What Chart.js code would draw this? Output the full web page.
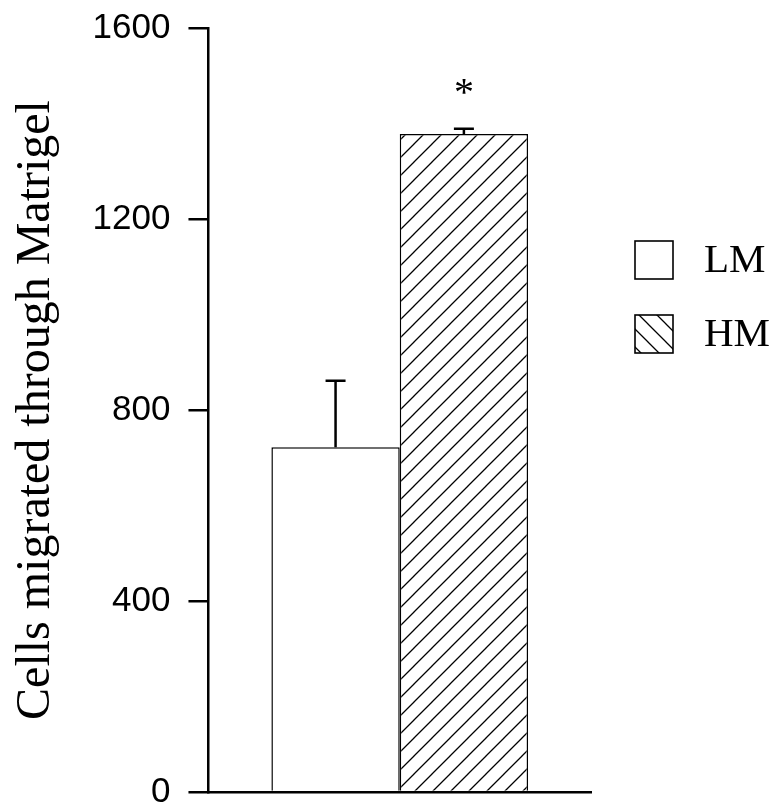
<!DOCTYPE html>
<html>
<head>
<meta charset="utf-8">
<script src="https://cdn.jsdelivr.net/npm/chart.js@4"></script>
<style>
  html, body { margin: 0; padding: 0; background: #fff; }
  #wrap { width: 775px; height: 807px; position: relative; }
</style>
</head>
<body>
<div id="wrap"><canvas id="c" width="775" height="807"></canvas></div>
<script>
// ---- data ----
const categories = [''];
const seriesLabels = ['LM', 'HM'];
const lmValues = [722];
const hmValues = [1378];
const lmErrors = [139];
const hmErrors = [11];
const yTicks = [0, 400, 800, 1200, 1600];
const yTickLabels = ['0', '400', '800', '1200', '1600'];
const yTitle = 'Cells migrated through Matrigel';
const significance = ['', '*'];

// ---- hatch patterns ----
function makeHatch(dir) {
  const s = 18;
  const cv = document.createElement('canvas');
  cv.width = s; cv.height = s;
  const g = cv.getContext('2d');
  g.fillStyle = '#fff';
  g.fillRect(0, 0, s, s);
  g.strokeStyle = '#000';
  g.lineWidth = 1.3;
  g.beginPath();
  if (dir === '/') {
    g.moveTo(-2, s + 2); g.lineTo(s + 2, -2);
    g.moveTo(-2, 2); g.lineTo(2, -2);
    g.moveTo(s - 2, s + 2); g.lineTo(s + 2, s - 2);
  } else {
    g.moveTo(-2, -2); g.lineTo(s + 2, s + 2);
    g.moveTo(s - 2, -2); g.lineTo(s + 2, 2);
    g.moveTo(-2, s - 2); g.lineTo(2, s + 2);
  }
  g.stroke();
  return g.createPattern(cv, 'repeat');
}
const hatchBar = makeHatch('/');
const hatchLegend = makeHatch('\\');

Chart.defaults.color = '#000';

// error bars + significance marks
const errorBarPlugin = {
  id: 'errorBars',
  afterDatasetsDraw(chart) {
    const ctx = chart.ctx;
    const y = chart.scales.y;
    chart.data.datasets.forEach((ds, di) => {
      const meta = chart.getDatasetMeta(di);
      meta.data.forEach((bar, i) => {
        const v = ds.data[i];
        const e = ds.errors[i];
        const x = bar.x;
        const yTop = y.getPixelForValue(v + e);
        const yBase = y.getPixelForValue(v);
        ctx.save();
        ctx.strokeStyle = '#000';
        ctx.lineWidth = 2.5;
        ctx.beginPath();
        ctx.moveTo(x, yBase);
        ctx.lineTo(x, yTop);
        ctx.moveTo(x - 10, yTop);
        ctx.lineTo(x + 10, yTop);
        ctx.stroke();
        if (ds.mark && ds.mark[i]) {
          ctx.fillStyle = '#000';
          ctx.font = '40px "Liberation Serif"';
          ctx.textAlign = 'center';
          ctx.textBaseline = 'alphabetic';
          ctx.fillText(ds.mark[i], x, yTop - 24);
        }
        ctx.restore();
      });
    });
  }
};

// legend drawn at the right
const sideLegendPlugin = {
  id: 'sideLegend',
  afterDraw(chart) {
    const ctx = chart.ctx;
    const x0 = chart.chartArea.right + 44;
    const yStart = 241;
    const step = 74;
    const box = 38;
    chart.data.datasets.forEach((ds, i) => {
      const y0 = yStart + i * step;
      ctx.save();
      ctx.fillStyle = ds.legendFill;
      ctx.fillRect(x0, y0, box, box);
      ctx.strokeStyle = '#000';
      ctx.lineWidth = 1.6;
      ctx.strokeRect(x0, y0, box, box);
      ctx.fillStyle = '#000';
      ctx.font = '41px "Liberation Serif"';
      ctx.textAlign = 'left';
      ctx.textBaseline = 'middle';
      ctx.fillText(ds.label, x0 + box + 31, y0 + box / 2 + 1);
      ctx.restore();
    });
  }
};

new Chart(document.getElementById('c'), {
  type: 'bar',
  data: {
    labels: categories,
    datasets: [
      {
        label: seriesLabels[0],
        data: lmValues,
        errors: lmErrors,
        mark: [significance[0]],
        backgroundColor: '#fff',
        legendFill: '#fff',
        borderColor: '#000',
        borderWidth: 1.5,
        borderSkipped: 'start',
        barPercentage: 1.0,
        categoryPercentage: 0.671
      },
      {
        label: seriesLabels[1],
        data: hmValues,
        errors: hmErrors,
        mark: [significance[1]],
        backgroundColor: hatchBar,
        legendFill: hatchLegend,
        borderColor: '#000',
        borderWidth: 1.5,
        borderSkipped: 'start',
        barPercentage: 1.0,
        categoryPercentage: 0.671
      }
    ]
  },
  options: {
    responsive: false,
    animation: false,
    devicePixelRatio: 1,
    layout: { padding: { left: 8, right: 184, top: 28, bottom: 15 } },
    plugins: {
      legend: { display: false },
      tooltip: { enabled: false },
      title: { display: false }
    },
    scales: {
      x: {
        display: true,
        grid: { display: false, drawTicks: false },
        border: { display: true, color: '#000', width: 2.5 },
        ticks: { display: false }
      },
      y: {
        min: 0,
        max: 1600,
        afterBuildTicks(scale) {
          scale.ticks = yTicks.map(v => ({ value: v }));
        },
        afterFit(scale) {
          scale.paddingTop = 0;
          scale.paddingBottom = 0;
        },
        grid: {
          display: true,
          drawOnChartArea: false,
          drawTicks: true,
          tickLength: 20,
          color: '#000',
          lineWidth: 2.5
        },
        border: { display: true, color: '#000', width: 2.5 },
        ticks: {
          padding: 18,
          color: '#000',
          font: { family: '"Liberation Sans"', size: 35 },
          callback(value) {
            const k = yTicks.indexOf(value);
            return k >= 0 ? yTickLabels[k] : '';
          }
        },
        title: {
          display: true,
          text: yTitle,
          color: '#000',
          font: { family: '"Liberation Serif"', size: 48 },
          padding: { top: 0, bottom: 9 }
        }
      }
    }
  },
  plugins: [errorBarPlugin, sideLegendPlugin]
});
</script>
</body>
</html>
